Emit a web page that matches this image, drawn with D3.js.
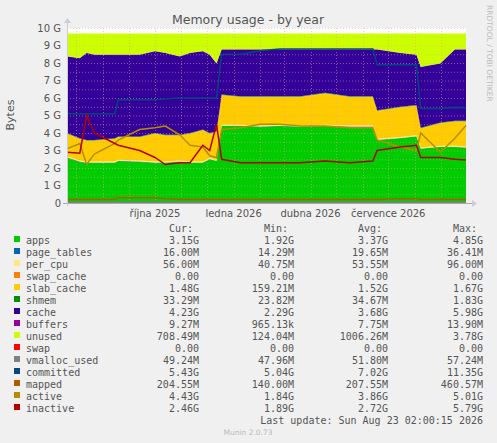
<!DOCTYPE html>
<html><head><meta charset="utf-8">
<script src="https://cdn.jsdelivr.net/npm/d3@7"></script>
<style>body{margin:0;background:#f0f0f0}svg{display:block}</style>
</head><body><svg id="c" width="497" height="443"></svg>
<script>
const dates = ["2025-06-20","2025-07-05","2025-07-13","2025-07-22","2025-08-15","2025-08-19","2025-09-13","2025-10-01","2025-10-13","2025-10-30","2025-11-11","2025-11-26","2025-12-04","2025-12-12","2025-12-18","2026-01-09","2026-02-01","2026-02-24","2026-03-20","2026-04-18","2026-05-17","2026-06-13","2026-06-18","2026-07-15","2026-08-03","2026-08-08","2026-08-31","2026-09-17","2026-09-30"];
const apps   = [2.6,2.35,2.3,2.3,2.3,2.4,2.35,2.3,2.3,2.35,2.3,2.3,2.5,2.4,4.4,4.4,4.35,4.4,4.35,4.4,4.35,4.35,3.6,3.7,3.8,3.1,3.2,3.2,3.15];
const pageTables = dates.map(()=>0.016);
const perCpu = dates.map(()=>0.056);
const swapCache = dates.map(()=>0);
const slabCache = [1.3,1.25,1.2,1.2,1.3,1.3,1.35,1.6,1.5,1.45,1.6,1.8,1.4,1.6,1.7,1.6,1.65,1.6,1.65,1.8,1.65,1.65,1.6,1.7,1.7,1.1,1.3,1.4,1.45];
const shmem = dates.map(()=>0.033);
const cache = [4.37,4.57,4.97,4.87,4.77,4.67,4.67,4.67,4.67,4.47,4.57,4.47,4.47,3.87,2.57,2.67,2.67,2.67,2.67,2.47,2.67,2.67,3.47,3.07,2.87,3.47,3.37,4.07,4.07];
const buffers = dates.map(()=>0.009);
const unused = [1.3,1.4,1.1,1.2,1.2,1.2,1.2,1.0,1.1,1.3,1.1,1.0,1.2,1.7,0.9,0.9,0.9,0.9,0.9,0.9,0.9,0.9,0.9,1.1,1.2,1.9,1.7,0.9,0.9];
const swap = dates.map(()=>0);
const vmalloc = dates.map(()=>0.05);
const committed = [5.1,5.1,5.1,5.1,5.1,5.9,5.9,5.9,5.95,6.0,6.0,6.0,6.0,6.0,8.5,8.5,8.7,8.8,8.8,8.8,8.8,8.8,7.9,7.9,7.9,5.4,5.4,5.45,5.43];
const mapped = [0.2,0.2,0.2,0.2,0.2,0.3,0.3,0.3,0.25,0.2,0.2,0.2,0.2,0.2,0.2,0.2,0.2,0.2,0.2,0.2,0.2,0.2,0.2,0.25,0.25,0.2,0.2,0.2,0.2];
const active = [3.1,3.4,2.2,2.8,3.4,3.6,4.2,4.3,4.4,3.9,3.3,3.2,2.7,2.6,4.2,4.3,4.5,4.5,4.4,4.4,4.3,4.3,3.6,3.2,3.0,4.0,2.9,3.7,4.43];
const inactive = [2.9,2.85,5.0,4.0,3.4,3.3,3.0,2.6,2.2,2.3,2.3,3.3,3.0,4.5,2.5,2.3,2.3,2.3,2.3,2.4,2.3,2.4,3.0,3.2,3.3,2.6,2.6,2.5,2.46];
const yTicks = ["0","1 G","2 G","3 G","4 G","5 G","6 G","7 G","8 G","9 G","10 G"];
const xTickDates = ["2025-10-01","2026-01-01","2026-04-01","2026-07-01"];
const xTickLabels = ["října 2025","ledna 2026","dubna 2026","července 2026"];

const areas = [
 ["apps",apps,"#00cc00"],["page_tables",pageTables,"#0066b3"],["per_cpu",perCpu,"#ffe680"],
 ["swap_cache",swapCache,"#ff8000"],["slab_cache",slabCache,"#ffcc00"],["shmem",shmem,"#008f00"],
 ["cache",cache,"#330099"],["buffers",buffers,"#990099"],["unused",unused,"#ccff00"]];
const lines = [["swap",swap,"#ff0000"],["vmalloc_used",vmalloc,"#808080"],["committed",committed,"#00487d"],
 ["mapped",mapped,"#b35a00"],["active",active,"#b38f00"],["inactive",inactive,"#b30000"]];
const legend = [
 ["apps","#00cc00","3.15G","1.92G","3.37G","4.85G"],["page_tables","#0066b3","16.00M","14.29M","19.65M","36.41M"],
 ["per_cpu","#ffe680","56.00M","40.75M","53.55M","96.00M"],["swap_cache","#ff8000","0.00","0.00","0.00","0.00"],
 ["slab_cache","#ffcc00","1.48G","159.21M","1.52G","1.67G"],["shmem","#008f00","33.29M","23.82M","34.67M","1.83G"],
 ["cache","#330099","4.23G","2.29G","3.68G","5.98G"],["buffers","#990099","9.27M","965.13k","7.75M","13.90M"],
 ["unused","#ccff00","708.49M","124.04M","1006.26M","3.78G"],["swap","#ff0000","0.00","0.00","0.00","0.00"],
 ["vmalloc_used","#808080","49.24M","47.96M","51.80M","57.24M"],["committed","#00487d","5.43G","5.04G","7.02G","11.35G"],
 ["mapped","#b35a00","204.55M","140.00M","207.55M","460.57M"],["active","#b38f00","4.43G","1.84G","3.86G","5.01G"],
 ["inactive","#b30000","2.46G","1.89G","2.72G","5.79G"]];

const svg = d3.select("#c");
const X0=67,X1=466,Y0=203,Y1=28;
const pd = d3.timeParse("%Y-%m-%d");
const D = dates.map(pd);
const x = d3.scaleTime().domain([pd("2025-06-20"),pd("2026-09-30")]).range([X0,X1]);
const y = d3.scaleLinear().domain([0,10]).range([Y0,Y1]);

svg.append("rect").attr("x",X0).attr("y",Y1).attr("width",X1-X0).attr("height",Y0-Y1).attr("fill","#fff");
const rows = D.map((d,i)=>{const o={d}; areas.forEach(a=>o[a[0]]=a[1][i]); return o;});
const stack = d3.stack().keys(areas.map(a=>a[0]))(rows);
const area = d3.area().x(d=>x(d.data.d)).y0(d=>y(d[0])).y1(d=>y(d[1]));
stack.forEach((s,i)=>svg.append("path").attr("d",area(s)).attr("fill",areas[i][2]));
const g = svg.append("g").attr("stroke","#e8a0a0").attr("stroke-dasharray","1,2").attr("stroke-width",0.6).attr("opacity",0.9);
d3.range(0,10.01,0.5).forEach(v=>g.append("line").attr("x1",X0).attr("x2",X1).attr("y1",y(v)+.5).attr("y2",y(v)+.5));
x.ticks(d3.timeMonth.every(1)).forEach(t=>g.append("line").attr("x1",Math.round(x(t))+.5).attr("x2",Math.round(x(t))+.5).attr("y1",Y1).attr("y2",Y0));
const ln = d3.line().x((d,i)=>x(D[i])).y(d=>y(d));
lines.forEach(l=>svg.append("path").attr("d",ln(l[1])).attr("fill","none").attr("stroke",l[2]).attr("stroke-width",1.5));
svg.append("line").attr("x1",X0-4).attr("x2",X1+6).attr("y1",Y0+.5).attr("y2",Y0+.5).attr("stroke","#aaa");
svg.append("line").attr("x1",X0+.5).attr("x2",X0+.5).attr("y1",Y0+3).attr("y2",Y1-6).attr("stroke","#ccc");
svg.append("path").attr("d",`M${X1+6},${Y0-3}L${X1+11},${Y0+.5}L${X1+6},${Y0+4}Z`).attr("fill","#ccd");
svg.append("path").attr("d",`M${X0-3},${Y1-5}L${X0+.5},${Y1-10}L${X0+4},${Y1-5}Z`).attr("fill","#ccd");
const tf="DejaVu Sans";
yTicks.forEach((t,i)=>svg.append("text").attr("x",61).attr("y",y(i)+3.5).attr("text-anchor","end").attr("font-family",tf).attr("font-size",10).attr("fill","#555").text(t));
xTickDates.forEach((t,i)=>svg.append("text").attr("x",x(pd(t))).attr("y",217).attr("text-anchor","middle").attr("font-family",tf).attr("font-size",10).attr("fill","#555").text(xTickLabels[i]));
svg.append("text").attr("x",248).attr("y",24).attr("text-anchor","middle").attr("font-family",tf).attr("font-size",12.5).attr("fill","#555").text("Memory usage - by year");
svg.append("text").attr("transform","translate(14,115) rotate(-90)").attr("text-anchor","middle").attr("font-family",tf).attr("font-size",11).attr("fill","#555").text("Bytes");
svg.append("text").attr("transform","translate(487,5) rotate(90)").attr("font-family",tf).attr("font-size",7.5).attr("fill","#bbb").text("RRDTOOL / TOBI OETIKER");
const mf="DejaVu Sans Mono", cols=[199,294,388,483], fs=10;
["Cur:","Min:","Avg:","Max:"].forEach((h,i)=>svg.append("text").attr("x",cols[i]-6).attr("y",231.5).attr("text-anchor","end").attr("font-family",mf).attr("font-size",fs).attr("fill","#555").text(h));
legend.forEach((r,i)=>{const yy=243.5+i*12;
 svg.append("rect").attr("x",14).attr("y",yy-7.5).attr("width",6).attr("height",6).attr("fill",r[1]);
 svg.append("text").attr("x",26).attr("y",yy).attr("font-family",mf).attr("font-size",fs).attr("fill","#555").text(r[0]);
 for(let c=0;c<4;c++)svg.append("text").attr("x",cols[c]).attr("y",yy).attr("text-anchor","end").attr("font-family",mf).attr("font-size",fs).attr("fill","#555").text(r[c+2]);
});
svg.append("text").attr("x",483).attr("y",423.5).attr("text-anchor","end").attr("font-family",mf).attr("font-size",fs).attr("fill","#555").text("Last update: Sun Aug 23 02:00:15 2026");
svg.append("text").attr("x",248).attr("y",435).attr("text-anchor","middle").attr("font-family",tf).attr("font-size",7.5).attr("fill","#bbb").text("Munin 2.0.73");
</script></body></html>
